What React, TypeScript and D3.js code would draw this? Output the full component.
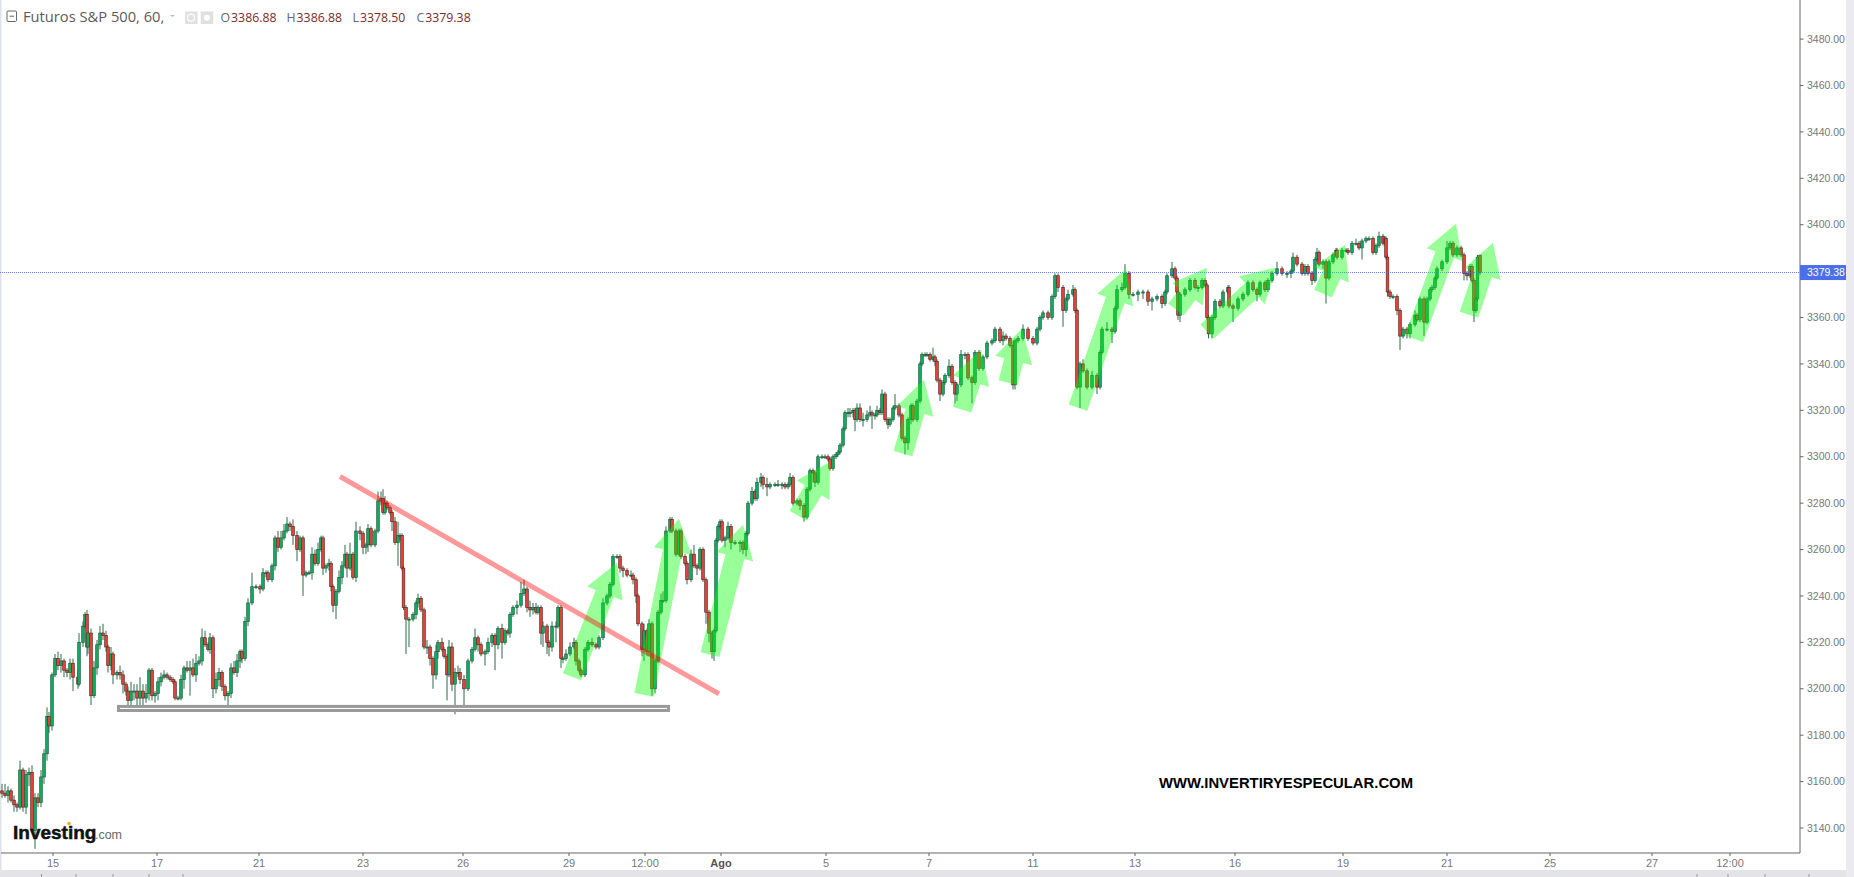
import React from "react";
import * as d3 from "d3";

// Each bar: [time slot, close, upper wick, lower wick]; open = previous close.
const barsMid: number[][] = [
[2,3155,3,2],[5,3154,4,1],[8,3156,2,3],[11,3152,1,1],[14,3150,2,3],[17,3149,1,2],[20,3165,4,1],[23,3149,1,2],[26,3163,2,3],[29,3164,2,5],
[32,3139,3,1],[35,3153,2,8],[38,3151,2,2],[41,3162,3,2],[44,3172,2,3],[47,3188,4,3],[49,3184,2,3],[52,3206,1,2],[55,3213,2,1],[58,3210,3,2],
[61,3212,3,3],[64,3208,1,3],[67,3207,1,2],[70,3211,2,3],[73,3205,2,6],[78,3202,3,2],[79,3220,4,1],[83,3227,2,2],[85,3232,1,1],[87,3218,2,4],
[88,3224,1,3],[91,3197,2,4],[94,3209,3,1],[97,3219,2,3],[100,3224,3,2],[103,3223,4,2],[106,3218,2,2],[108,3210,1,3],[111,3215,3,2],[113,3206,1,4],
[117,3207,1,2],[120,3206,3,2],[123,3202,2,4],[126,3199,1,2],[128,3195,2,5],[131,3199,4,3],[134,3199,3,4],[137,3196,3,3],[140,3199,6,3],[143,3196,3,3],
[146,3198,4,2],[149,3208,1,3],[152,3197,1,2],[155,3198,1,3],[158,3203,2,3],[161,3205,2,2],[164,3206,2,1],[167,3205,1,1],[170,3204,1,1],[173,3203,1,1],
[175,3196,1,1],[178,3196,1,1],[181,3204,2,1],[184,3209,1,4],[187,3208,3,1],[190,3209,3,11],[193,3206,4,1],[196,3211,4,3],[199,3212,2,1],[202,3222,4,2],
[205,3219,3,1],[208,3217,1,1],[210,3222,2,2],[213,3200,1,4],[216,3204,3,2],[219,3207,2,3],[222,3201,1,2],[225,3197,1,2],[228,3198,1,6],[231,3209,2,2],
[234,3207,3,1],[237,3212,3,2],[240,3216,1,3],[242,3213,1,2],[245,3229,2,1],[248,3237,2,2],[252,3244,6,1],[256,3244,1,1],[260,3243,1,2],[263,3250,2,1],
[266,3250,1,2],[268,3247,1,1],[272,3253,1,1],[275,3265,1,2],[278,3261,3,2],[281,3265,3,1],[284,3268,3,1],[287,3271,3,1],[290,3270,1,2],[293,3266,3,4],
[297,3260,2,5],[300,3265,1,1],[303,3249,1,9],[306,3250,1,1],[309,3250,1,1],[312,3258,3,3],[315,3254,2,1],[318,3260,3,1],[321,3265,1,1],[323,3252,1,3],
[326,3253,1,2],[329,3254,2,2],[331,3244,1,2],[333,3236,1,3],[336,3242,1,6],[339,3248,3,1],[342,3253,2,3],[345,3258,4,1],[347,3252,1,4],[350,3258,5,1],
[353,3248,1,1],[356,3268,4,2],[360,3267,2,3],[363,3261,1,3],[366,3262,1,3],[368,3269,2,3],[371,3262,1,1],[375,3268,1,1],[378,3281,4,1],[381,3282,3,2],
[383,3276,4,1],[385,3280,3,1],[387,3278,1,1],[390,3276,1,1],[392,3272,1,4],[395,3263,2,1],[398,3266,6,10],[400,3266,1,2],[402,3252,1,1],[403.5,3235,1,1],
[406,3230,1,15],[409,3230,1,12],[413,3232,1,1],[416,3237,1,2],[418,3239,2,2],[421,3234,1,1],[424,3218,1,1],[427,3218,3,3],[430,3213,1,3],[433,3206,1,6],
[436,3216,3,2],[438,3220,1,3],[442,3217,2,1],[444,3214,1,1],[447,3206,1,11],[449,3218,3,1],[452,3202,2,3],[455,3207,2,13],[458,3207,3,2],[460,3204,2,2],
[464,3200,2,7],[468,3212,1,1],[472,3217,1,1],[475,3222,4,1],[478,3219,1,3],[481,3215,1,1],[485,3216,1,5],[488,3220,2,1],[492,3223,1,2],[495,3219,1,11],
[498,3226,1,2],[502,3220,2,7],[505,3225,1,1],[508,3224,1,1],[510,3232,1,2],[513,3235,1,1],[517,3236,2,3],[521,3241,5,1],[524,3243,4,1],[527,3235,1,2],
[530,3234,3,3],[533,3235,2,2],[536,3233,2,1],[538,3235,1,1],[541,3224,1,5],[543,3227,2,6],[547,3220,1,5],[549,3218,1,4],[552,3227,2,2],[556,3227,2,7],
[558,3235,1,1],[561,3213,1,4],[563,3213,1,2],[566,3215,2,1],[570,3218,2,1],[574,3220,2,1],[576,3212,1,2],[579,3208,1,1],[581,3206,1,1],[585,3217,1,1],
];

const barsLate: number[][] = [
[588,3220,1,1],[592,3219,2,1],[596,3218,1,1],[599,3222,1,1],[603,3237,2,1],[607,3240,1,1],[610,3245,1,1],[613,3257,1,1],[617,3257,1,1],[620,3252,1,2],
[623,3251,1,3],[627,3249,1,1],[631,3249,2,1],[633,3247,1,2],[636,3240,1,3],[638,3228,1,1],[642,3217,1,3],[644,3225,3,5],[647,3216,1,2],[649,3228,2,2],
[652,3200,1,3],[655,3212,1,2],[658,3233,1,1],[661,3238,3,1],[663,3238,4,1],[666,3268,2,1],[670,3273,1,1],[672,3268,1,1],[676,3258,1,1],[679,3268,1,1],
[681,3257,1,1],[685,3254,1,1],[687,3247,1,2],[691,3258,2,1],[694,3253,4,1],[697,3252,1,3],[700,3260,1,1],[703,3247,1,1],[706,3233,1,5],[709,3224,1,4],
[712,3216,1,3],[714,3225,1,4],[716,3264,1,1],[718,3270,1,1],[720,3272,1,1],[722,3264,1,1],[725,3265,1,3],[728,3270,2,1],[731,3263,1,3],[735,3263,1,1],
[740,3263,1,4],[743,3260,1,2],[746,3267,1,3],[748,3280,1,1],[752,3285,2,1],[755,3282,1,1],[757,3289,2,1],[761,3291,2,2],[763,3288,1,2],[767,3287,3,4],
[770,3288,1,1],[775,3288,1,1],[778,3288,2,1],[782,3288,1,2],[785,3287,1,1],[788,3288,1,1],[790,3291,2,1],[793,3280,1,1],[797,3281,1,1],[800,3279,1,2],
[804,3274,1,2],[807,3286,1,1],[810,3294,1,1],[813,3293,1,4],[815,3289,1,2],[818,3300,1,1],[822,3300,1,1],[825,3300,1,1],[828,3299,1,1],[830,3295,1,1],
[833,3300,1,1],[836,3301,1,1],[838,3302,1,1],[840,3305,1,1],[843,3312,1,1],[845,3319,1,1],[848,3319,2,2],[850,3319,2,2],[853,3320,1,2],[855,3316,1,5],
[857,3321,2,1],[860,3316,2,1],[863,3316,3,3],[867,3318,2,1],[870,3319,3,1],[872,3318,1,6],[875,3318,1,2],[877,3320,2,1],[880,3319,1,1],[882,3327,2,1],
[885,3316,1,1],[888,3314,1,2],[890,3316,1,1],[893,3321,1,1],[895,3322,5,1],[899,3318,1,1],[902,3308,1,1],[905,3306,1,5],[908,3316,1,3],[911,3322,1,2],
[913,3316,1,1],[917,3324,1,1],[920,3340,1,1],[922,3344,1,1],[925,3344,1,1],[927,3344,1,1],[930,3342,1,1],[933,3343,4,1],[935,3341,1,2],[937,3333,1,1],
[940,3327,1,3],[943,3332,1,1],[945,3335,1,1],[949,3339,3,1],[952,3332,1,1],[955,3327,1,4],[957,3331,1,3],[961,3344,2,1],[965,3344,1,2],[968,3334,1,1],
[972,3332,1,9],[975,3345,1,1],[979,3338,1,1],[983,3343,1,1],[987,3349,1,1],[992,3350,1,1],[995,3355,1,1],[1000,3350,1,1],[1003,3352,2,2],[1006,3351,1,1],
[1010,3348,1,1],[1013,3331,2,2],[1015,3350,1,2],[1018,3351,1,1],[1023,3355,2,1],[1028,3351,1,1],[1033,3349,1,1],[1037,3355,1,1],[1040,3360,1,1],[1043,3362,1,1],
[1048,3360,1,1],[1052,3369,1,1],[1055,3378,1,1],[1058,3373,1,2],[1063,3363,1,7],[1066,3368,1,1],[1068,3370,2,1],[1073,3372,2,1],[1075,3363,1,1],[1077,3330,1,1],
[1080,3340,1,9],[1083,3337,2,1],[1087,3330,1,1],[1092,3335,2,1],[1097,3330,1,3],[1100,3345,1,1],[1102,3355,1,1],[1107,3355,3,1],[1112,3354,1,5],[1115,3364,1,1],
[1117,3372,2,1],[1122,3373,2,1],[1125,3379,4,1],[1129,3370,1,2],[1133,3370,1,1],[1138,3371,1,3],[1143,3371,1,3],[1148,3367,1,2],[1152,3368,1,4],[1157,3369,1,1],
[1162,3366,1,2],[1165,3371,1,1],[1167,3378,1,1],[1172,3381,3,1],[1175,3377,1,1],[1177,3371,1,1],[1178,3361,1,2],[1180,3370,1,3],[1185,3372,1,1],[1190,3376,1,1],
[1195,3373,1,1],[1198,3373,1,2],[1202,3376,1,1],[1205,3374,1,1],[1207,3360,1,1],[1208.5,3353,1,2],[1212,3360,1,2],[1215,3367,1,1],[1220,3365,1,1],[1223,3371,1,1],
[1228,3373,1,1],[1229,3365,1,1],[1233,3364,1,6],[1238,3368,1,1],[1243,3370,1,1],[1248,3375,1,1],[1253,3372,1,1],[1257,3370,1,3],[1260,3375,1,1],[1265,3372,1,1],
[1268,3376,1,1],[1272,3379,1,1],[1277,3381,3,1],[1282,3379,1,1],[1287,3379,1,2],[1291,3380,1,2],[1293,3386,2,1],[1297,3383,1,1],[1302,3379,1,1],[1305,3382,1,1],
[1308,3379,1,1],[1312,3376,1,2],[1315,3385,1,1],[1317,3388,2,1],[1319,3383,1,1],[1323,3384,1,2],[1326,3377,1,11],[1329,3384,1,1],[1333,3387,1,1],[1336,3389,1,1],
[1337,3386,1,1],[1342,3389,1,1],[1346,3389,1,1],[1348,3388,1,1],[1352,3392,1,1],[1356,3392,2,1],[1359,3390,1,1],[1362,3393,1,5],[1366,3394,1,1],[1369,3394,1,1],
[1373,3388,1,1],[1376,3391,1,1],[1379,3395,2,1],[1383,3392,1,1],[1385,3394,1,1],[1386,3386,1,1],[1387.5,3371,1,2],[1390,3369,1,1],[1393,3369,1,1],[1397,3363,1,2],
[1400,3352,1,6],[1403,3355,1,1],[1407,3353,1,2],[1410,3357,1,2],[1415,3361,2,1],[1417,3359,1,1],[1420,3368,1,1],[1424,3358,1,6],[1427,3368,1,1],[1430,3372,1,1],
[1432,3373,1,1],[1435,3377,1,1],[1437,3381,1,1],[1442,3384,1,1],[1447,3390,3,1],[1450,3392,1,1],[1453,3387,1,1],[1457,3390,1,1],[1461,3387,1,1],[1464,3379,1,3],
[1467,3378,1,2],[1470,3382,1,1],[1472,3376,1,1],[1474,3363,1,5],[1476,3368,1,1],[1477.5,3386,1,1],[1480,3379.38,0,1],
];

const priceTicks = [3140,3160,3180,3200,3220,3240,3260,3280,3300,3320,3340,3360,3400,3420,3440,3460,3480];
const timeTickSlots = [53,157,259,363,463,569,645,721,826,929,1033,1135,1235,1343,1447,1550,1652,1730];
const timeTickLabels = ["15","17","21","23","26","29","12:00","Ago","5","7","11","13","16","19","21","25","27","12:00"];

const lastPrice = 3379.38;
const ohlcLetters = ["O","H","L","C"];
const ohlcValues = ["3386.88","3386.88","3378.50","3379.38"];

const footerDividerX = [41.5,76,113,149,183,1697,1728,1765,1809];

// Uptrend arrows: [tail slot, tail price, tip slot, tip price]
const arrows: number[][] = [
[572,3205.2,617,3254.3],[644,3197.4,679,3273.3],[710,3214.7,743,3270.7],[798,3274.6,830,3297.8],
[903,3301.3,924,3333.2],[962,3320.3,981,3346.1],[1008,3331.9,1022,3355.2],[1078,3321.1,1126,3381],
[1176,3363.4,1207,3381.5],[1207,3353.9,1276,3381.5],[1323,3370.3,1345,3391.4],[1414,3350.9,1456,3400.4],[1469,3361.2,1493,3392.2],
];
const trendLine = [[340,3291.5],[719,3197.8]];
const supportSlots = [118.5,668.5];
const supportPrices = [3192.4,3190.65];

const W = 1854, H = 877;
const plotRight = 1800, plotBottom = 853;
const x = d3.scaleLinear().domain([0,1800]).range([0,plotRight]);
const y = d3.scaleLinear().domain([3400,3140]).range([224.7,828]);
const SANS = "'Liberation Sans', Arial, sans-serif";

const bars = [...barsMid, ...barsLate].map((b,i,a) => {
  const open = i === 0 ? b[1]+1 : i === a.length-1 ? 3386.88 : a[i-1][1];
  return { slot:b[0], open, close:b[1], high:Math.max(open,b[1])+b[2], low:Math.min(open,b[1])-b[3] };
});

function arrowPath(a:number[]) {
  const x0=x(a[0]), y0=y(a[1]), x1=x(a[2]), y1=y(a[3]);
  const len=Math.hypot(x1-x0,y1-y0), ux=(x1-x0)/len, uy=(y1-y0)/len, nx=-uy, ny=ux;
  const shaft=9.7, head=19, hl=33;
  const bx=x1-ux*hl, by=y1-uy*hl;
  const pts:[number,number][]=[
    [x0+nx*shaft,y0+ny*shaft],[bx+nx*shaft,by+ny*shaft],[bx+nx*head,by+ny*head],[x1,y1],
    [bx-nx*head,by-ny*head],[bx-nx*shaft,by-ny*shaft],[x0-nx*shaft,y0-ny*shaft],
  ];
  return d3.line()(pts)+"Z";
}

export default function App() {
  const lineGen = d3.line<number[]>().x(d=>x(d[0])).y(d=>y(d[1]));
  return (
    <svg width={W} height={H} viewBox={`0 0 ${W} ${H}`} style={{position:"fixed",left:0,top:0,display:"block",background:"#fff"}} fontFamily={SANS}>
      <rect x={0} y={0} width={W} height={H} fill="#fff"/>
      <rect x={0} y={0} width={1.5} height={877} fill="#dfe2e8"/>
      <rect x={0} y={870} width={1846} height={7} fill="#e4e4e8"/>
      <rect x={1846} y={0} width={8} height={877} fill="#eaeaf0"/>

      {/* candles */}
      <g>
        {bars.map((b,i)=>(
          <line key={i} x1={x(b.slot)} x2={x(b.slot)} y1={y(b.high)} y2={y(b.low)} stroke="#2c6b4b" strokeWidth={1}/>
        ))}
        {bars.map((b,i)=>{
          const up=b.close>=b.open;
          const top=y(Math.max(b.open,b.close)), bot=y(Math.min(b.open,b.close));
          return <rect key={i} x={x(b.slot)-1.3} y={top} width={2.6} height={Math.max(bot-top,1)}
            fill={up?"#0fae62":"#e5453b"} stroke={up?"#1d5a3e":"#5a2420"} strokeWidth={0.7}/>;
        })}
      </g>

      {/* last price line */}
      <line x1={0} x2={plotRight} y1={y(lastPrice)} y2={y(lastPrice)} stroke="#3f66e0" strokeWidth={1} strokeDasharray="1 1" opacity={0.8}/>

      {/* drawings */}
      <rect x={x(supportSlots[0])} y={y(supportPrices[0])} width={x(supportSlots[1])-x(supportSlots[0])} height={y(supportPrices[1])-y(supportPrices[0])} fill="#fff" stroke="#999" strokeWidth={3}/>
      {arrows.map((a,i)=><path key={i} d={arrowPath(a)!} fill="#00ff00" fillOpacity={0.4}/>)}
      <path d={lineGen(trendLine)!} stroke="#ff0000" strokeOpacity={0.4} strokeWidth={5} fill="none"/>

      {/* axes */}
      <line x1={plotRight} x2={plotRight} y1={0} y2={plotBottom} stroke="#666" strokeWidth={1}/>
      <line x1={1} x2={plotRight} y1={plotBottom} y2={plotBottom} stroke="#666" strokeWidth={1}/>
      {priceTicks.map(p=>(
        <g key={p}>
          <line x1={plotRight} x2={plotRight+3.5} y1={y(p)} y2={y(p)} stroke="#666"/>
          <text x={plotRight+7} y={y(p)+3.7} fontSize={10.5} fill="#777">{p.toFixed(2)}</text>
        </g>
      ))}
      {timeTickSlots.map((s,i)=>(
        <g key={i}>
          <line x1={x(s)} x2={x(s)} y1={plotBottom} y2={plotBottom+3} stroke="#666"/>
          <text x={x(s)} y={866.5} fontSize={11} textAnchor="middle" fill={timeTickLabels[i]==="Ago"?"#555":"#777"} fontWeight={timeTickLabels[i]==="Ago"?700:400}>{timeTickLabels[i]}</text>
        </g>
      ))}
      <rect x={plotRight} y={y(lastPrice)-7.5} width={46} height={15} fill="#4a6fe8"/>
      <text x={plotRight+7} y={y(lastPrice)+3.7} fontSize={10.5} fill="#fff">{lastPrice.toFixed(2)}</text>

      {/* footer */}
      {footerDividerX.map(d=><line key={d} x1={d} x2={d} y1={874} y2={877} stroke="#999"/>)}

      {/* header */}
      <rect x={7} y={11} width={9.5} height={10.5} fill="none" stroke="#666" rx={1}/>
      <line x1={9.5} x2={14} y1={16.2} y2={16.2} stroke="#666"/>
      <text x={23} y={22} fontSize={14.7} fill="#5a5a5a" fontFamily="'Open Sans', sans-serif">Futuros S&amp;P 500, 60,</text>
      <path d={d3.line()([[170,15],[175,15],[172.5,17]])+"Z"} fill="#bbb"/>
      <rect x={185} y={11.5} width={12.5} height={12.5} fill="#e0e0e0"/>
      <circle cx={191} cy={17.7} r={3.5} fill="none" stroke="#fff" strokeWidth={1.2}/>
      <rect x={200.7} y={11.5} width={12.5} height={12.5} fill="#e0e0e0"/>
      <circle cx={207} cy={17.7} r={3} fill="#fff"/>
      {ohlcLetters.map((l,i)=>{
        const starts=[220.5,286.5,352.5,416.5];
        return (
          <text key={l} x={starts[i]} y={21.5} fontSize={12.3} fontFamily="'Open Sans', sans-serif">
            <tspan fill="#666">{l}</tspan><tspan dx={1} fill="#7a2b2b">{ohlcValues[i]}</tspan>
          </text>
        );
      })}

      {/* watermarks */}
      <text x={1159} y={788} fontSize={14} fontWeight={700} fill="#000" textLength={254} lengthAdjust="spacingAndGlyphs">WWW.INVERTIRYESPECULAR.COM</text>
      <text x={13} y={838.5} fontSize={19} fontWeight={700} fill="#111" stroke="#111" strokeWidth={0.5}>Investing</text>
      <text x={95} y={838.5} fontSize={13.5} fill="#666" textLength={27} lengthAdjust="spacingAndGlyphs">.com</text>
      <circle cx={69} cy={823.5} r={1.8} fill="#f5a623"/>
    </svg>
  );
}
